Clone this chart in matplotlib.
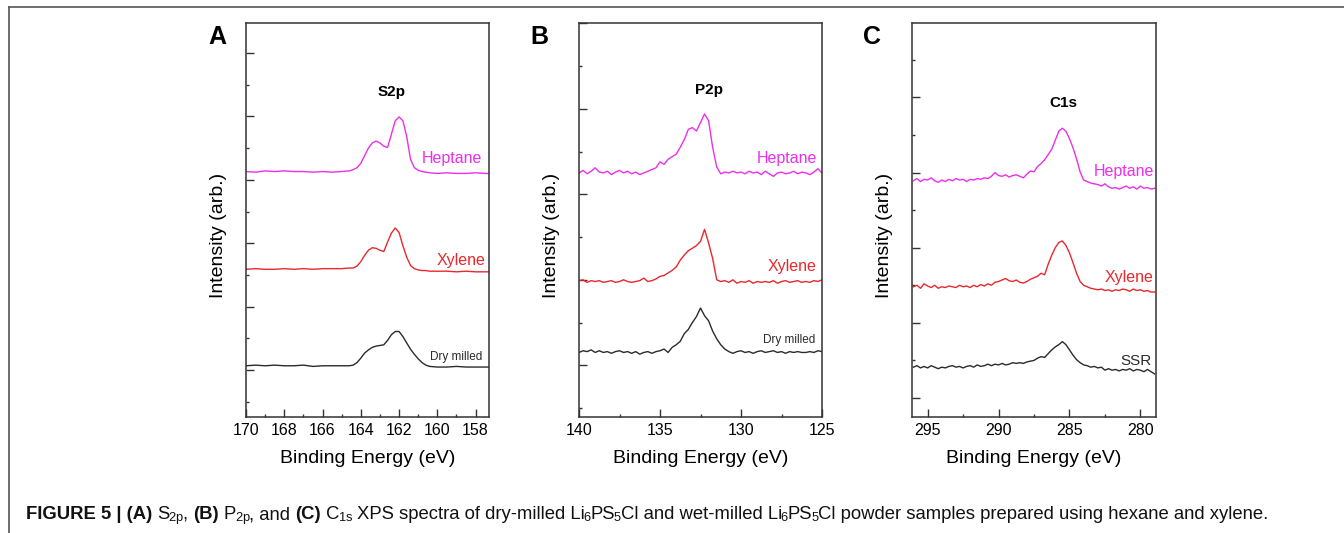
import matplotlib
matplotlib.use('Agg')
import matplotlib.pyplot as plt
from matplotlib.lines import Line2D
from matplotlib.ticker import MultipleLocator

plt.rcParams['font.family'] = ['Liberation Sans', 'DejaVu Sans']

# ---- data (intensities in arbitrary units, offset per spectrum) ----
# (A) S2p
s2p_energy = [170.0, 169.5, 169.0, 168.5, 168.0, 167.5, 167.0, 166.5, 166.0, 165.5,
              165.0, 164.6, 164.4, 164.2, 164.0, 163.8, 163.6, 163.4, 163.2, 163.0,
              162.8, 162.6, 162.4, 162.2, 162.0, 161.8, 161.6, 161.4, 161.2, 161.0,
              160.8, 160.6, 160.4, 160.0, 159.5, 159.0, 158.5, 158.0, 157.5, 157.3]
s2p_heptane = [3.13, 3.12, 3.14, 3.13, 3.14, 3.13, 3.13, 3.12, 3.13, 3.12,
               3.13, 3.14, 3.16, 3.19, 3.26, 3.38, 3.50, 3.58, 3.61, 3.58,
               3.53, 3.51, 3.72, 3.93, 3.99, 3.93, 3.68, 3.32, 3.19, 3.15,
               3.13, 3.12, 3.11, 3.10, 3.11, 3.10, 3.10, 3.11, 3.10, 3.10]
s2p_xylene = [1.59, 1.60, 1.59, 1.59, 1.60, 1.59, 1.60, 1.59, 1.60, 1.60,
              1.60, 1.61, 1.61, 1.64, 1.71, 1.81, 1.89, 1.93, 1.92, 1.89,
              1.87, 2.02, 2.16, 2.24, 2.17, 1.96, 1.78, 1.65, 1.60, 1.58,
              1.57, 1.57, 1.56, 1.56, 1.56, 1.55, 1.56, 1.55, 1.55, 1.55]
s2p_dry = [0.07, 0.08, 0.07, 0.08, 0.07, 0.07, 0.08, 0.06, 0.07, 0.07,
           0.07, 0.07, 0.08, 0.12, 0.19, 0.27, 0.32, 0.36, 0.38, 0.39,
           0.40, 0.47, 0.56, 0.61, 0.61, 0.53, 0.43, 0.33, 0.25, 0.18,
           0.12, 0.08, 0.06, 0.05, 0.05, 0.06, 0.05, 0.05, 0.05, 0.05]

# (B) P2p
p2p_energy = [140.00, 139.75, 139.50, 139.25, 139.00, 138.75, 138.50, 138.25, 138.00, 137.75,
              137.50, 137.25, 137.00, 136.75, 136.50, 136.25, 136.00, 135.75, 135.50, 135.25,
              135.00, 134.75, 134.50, 134.25, 134.00, 133.75, 133.50, 133.25, 133.00, 132.75,
              132.50, 132.25, 132.00, 131.75, 131.50, 131.25, 131.00, 130.75, 130.50, 130.25,
              130.00, 129.75, 129.50, 129.25, 129.00, 128.75, 128.50, 128.25, 128.00, 127.75,
              127.50, 127.25, 127.00, 126.75, 126.50, 126.25, 126.00, 125.75, 125.50, 125.25,
              125.00]
p2p_heptane = [2.25, 2.28, 2.24, 2.27, 2.31, 2.26, 2.25, 2.27, 2.23, 2.26,
               2.28, 2.25, 2.27, 2.24, 2.26, 2.23, 2.25, 2.27, 2.29, 2.31,
               2.38, 2.35, 2.41, 2.44, 2.47, 2.55, 2.64, 2.76, 2.78, 2.74,
               2.84, 2.94, 2.86, 2.55, 2.32, 2.24, 2.26, 2.25, 2.27, 2.25,
               2.26, 2.24, 2.27, 2.25, 2.26, 2.23, 2.27, 2.24, 2.21, 2.25,
               2.26, 2.24, 2.25, 2.27, 2.24, 2.26, 2.25, 2.23, 2.26, 2.30,
               2.25]
p2p_xylene = [0.99, 1.00, 0.97, 0.99, 0.98, 0.99, 0.97, 0.98, 0.99, 0.97,
              0.98, 1.00, 0.98, 0.97, 0.98, 0.99, 1.02, 0.98, 0.99, 1.01,
              1.04, 1.05, 1.08, 1.11, 1.15, 1.23, 1.29, 1.34, 1.37, 1.40,
              1.45, 1.59, 1.43, 1.25, 1.00, 0.98, 0.99, 0.97, 1.00, 0.96,
              0.98, 0.97, 0.99, 0.96, 0.98, 0.97, 0.98, 0.97, 0.99, 0.96,
              0.98, 0.99, 0.97, 0.98, 0.99, 0.97, 0.98, 0.97, 0.99, 0.98,
              1.00]
p2p_dry = [0.15, 0.17, 0.16, 0.18, 0.15, 0.17, 0.15, 0.16, 0.14, 0.16,
           0.17, 0.15, 0.16, 0.14, 0.16, 0.13, 0.15, 0.16, 0.14, 0.16,
           0.17, 0.19, 0.15, 0.21, 0.24, 0.28, 0.37, 0.42, 0.50, 0.57,
           0.67, 0.58, 0.52, 0.40, 0.31, 0.24, 0.19, 0.16, 0.14, 0.16,
           0.17, 0.15, 0.16, 0.14, 0.16, 0.17, 0.15, 0.16, 0.17, 0.15,
           0.16, 0.14, 0.16, 0.15, 0.16, 0.15, 0.15, 0.16, 0.15, 0.17,
           0.16]

# (C) C1s
c1s_energy = [296.00, 295.75, 295.50, 295.25, 295.00, 294.75, 294.50, 294.25, 294.00, 293.75,
              293.50, 293.25, 293.00, 292.75, 292.50, 292.25, 292.00, 291.75, 291.50, 291.25,
              291.00, 290.75, 290.50, 290.25, 290.00, 289.75, 289.50, 289.25, 289.00, 288.75,
              288.50, 288.25, 288.00, 287.75, 287.50, 287.25, 287.00, 286.75, 286.50, 286.25,
              286.00, 285.75, 285.50, 285.25, 285.00, 284.75, 284.50, 284.25, 284.00, 283.75,
              283.50, 283.25, 283.00, 282.75, 282.50, 282.25, 282.00, 281.75, 281.50, 281.25,
              281.00, 280.75, 280.50, 280.25, 280.00, 279.75, 279.50, 279.25, 279.00]
c1s_heptane = [2.89, 2.92, 2.88, 2.91, 2.90, 2.93, 2.89, 2.87, 2.90, 2.88,
               2.91, 2.89, 2.92, 2.90, 2.91, 2.88, 2.91, 2.90, 2.92, 2.91,
               2.93, 2.92, 2.95, 3.00, 2.96, 2.95, 2.97, 2.94, 2.96, 2.97,
               2.95, 2.93, 2.98, 3.02, 3.01, 3.08, 3.12, 3.17, 3.24, 3.31,
               3.43, 3.55, 3.59, 3.55, 3.45, 3.33, 3.18, 3.01, 2.90, 2.88,
               2.86, 2.85, 2.84, 2.82, 2.85, 2.81, 2.79, 2.80, 2.78, 2.80,
               2.82, 2.79, 2.81, 2.78, 2.82, 2.79, 2.80, 2.78, 2.79]
c1s_xylene = [1.48, 1.50, 1.46, 1.52, 1.49, 1.47, 1.50, 1.46, 1.48, 1.47,
              1.49, 1.48, 1.47, 1.50, 1.48, 1.49, 1.47, 1.50, 1.48, 1.51,
              1.49, 1.52, 1.50, 1.54, 1.55, 1.57, 1.59, 1.56, 1.55, 1.57,
              1.54, 1.53, 1.55, 1.58, 1.60, 1.62, 1.66, 1.64, 1.78, 1.90,
              2.00, 2.07, 2.09, 2.03, 1.93, 1.80, 1.66, 1.55, 1.50, 1.48,
              1.46, 1.45, 1.44, 1.45, 1.43, 1.44, 1.42, 1.44, 1.43, 1.45,
              1.44, 1.42, 1.45, 1.43, 1.44, 1.42, 1.43, 1.41, 1.41]
c1s_ssr = [0.41, 0.43, 0.40, 0.42, 0.40, 0.43, 0.41, 0.39, 0.41, 0.40,
           0.42, 0.43, 0.41, 0.42, 0.40, 0.42, 0.43, 0.41, 0.44, 0.42,
           0.43, 0.45, 0.43, 0.45, 0.44, 0.46, 0.44, 0.45, 0.47, 0.46,
           0.47, 0.46, 0.48, 0.49, 0.50, 0.53, 0.55, 0.54, 0.59, 0.64,
           0.68, 0.71, 0.75, 0.71, 0.64, 0.57, 0.51, 0.47, 0.44, 0.43,
           0.41, 0.42, 0.40, 0.41, 0.37, 0.39, 0.37, 0.38, 0.36, 0.38,
           0.37, 0.39, 0.36, 0.38, 0.37, 0.35, 0.38, 0.35, 0.32]

MAGENTA = '#ec2fec'
RED = '#e8282c'
DARK = '#2b2b2b'
AX_COLOR = '#333333'

fig = plt.figure(figsize=(13.44, 5.33), dpi=100)

# frame lines of the figure box (top and left)
fig.add_artist(Line2D([9 / 1344, 1.0], [1 - 7 / 533, 1 - 7 / 533],
                      transform=fig.transFigure, color='#555555', lw=1.2))
fig.add_artist(Line2D([9 / 1344, 9 / 1344], [0.0, 1 - 7 / 533],
                      transform=fig.transFigure, color='#555555', lw=1.2))

panels = [
    dict(letter='A', title='S2p', left=246, width=243, xlim=(170, 157.3), xmaj=2, xmin=1,
         ylim=(-0.737, 5.47), energy=s2p_energy,
         series=[s2p_heptane, s2p_xylene, s2p_dry],
         labels=[('Heptane', MAGENTA, 11.5, 0.971, 0.655),
                 ('Xylene', RED, 11.5, 0.984, 0.398),
                 ('Dry milled', DARK, 8.5, 0.971, 0.152)],
         title_pos=(0.601, 0.825), letter_x=217),
    dict(letter='B', title='P2p', left=579, width=243, xlim=(140, 125), xmaj=5, xmin=2.5,
         ylim=(-0.605, 4.004), energy=p2p_energy,
         series=[p2p_heptane, p2p_xylene, p2p_dry],
         labels=[('Heptane', MAGENTA, 11.5, 0.979, 0.655),
                 ('Xylene', RED, 11.5, 0.979, 0.383),
                 ('Dry milled', DARK, 8.5, 0.971, 0.195)],
         title_pos=(0.535, 0.830), letter_x=539),
    dict(letter='C', title='C1s', left=912, width=244, xlim=(296.1, 278.9), xmaj=5, xmin=2.5,
         ylim=(-0.253, 4.99), energy=c1s_energy,
         series=[c1s_heptane, c1s_xylene, c1s_ssr],
         labels=[('Heptane', MAGENTA, 11.5, 0.992, 0.622),
                 ('Xylene', RED, 11.5, 0.988, 0.353),
                 ('SSR', DARK, 11, 0.984, 0.142)],
         title_pos=(0.619, 0.797), letter_x=872),
]

colors = [MAGENTA, RED, DARK]
for p in panels:
    ax = fig.add_axes([p['left'] / 1344, 1 - 417 / 533, p['width'] / 1344, 394 / 533])
    for vals, c in zip(p['series'], colors):
        ax.plot(p['energy'], vals, color=c, lw=1.0)
    ax.set_xlim(*p['xlim'])
    ax.set_ylim(*p['ylim'])
    ax.xaxis.set_major_locator(MultipleLocator(p['xmaj']))
    ax.xaxis.set_minor_locator(MultipleLocator(p['xmin']))
    ax.yaxis.set_major_locator(MultipleLocator(1))
    ax.yaxis.set_minor_locator(MultipleLocator(0.5))
    ax.tick_params(which='both', direction='in', top=False, right=False,
                   color=AX_COLOR, width=1.0)
    ax.tick_params(which='major', length=5.5, labelsize=11.5, pad=4)
    ax.tick_params(which='minor', length=2.5)
    ax.tick_params(axis='y', labelleft=False)
    for sp in ax.spines.values():
        sp.set_color(AX_COLOR)
        sp.set_linewidth(1.1)
    ax.set_xlabel('Binding Energy (eV)', fontsize=14, labelpad=9)
    ax.set_ylabel('Intensity (arb.)', fontsize=14)
    ax.yaxis.set_label_coords(-19 / p['width'], 0.46)
    for text, c, fs, x, y in p['labels']:
        ax.text(x, y, text, color=c, fontsize=fs, ha='right', va='center',
                transform=ax.transAxes)
    ax.text(p['title_pos'][0], p['title_pos'][1], p['title'], fontsize=11,
            fontweight='bold', ha='center', va='center', transform=ax.transAxes)
    fig.text(p['letter_x'] / 1344, 1 - 37 / 533, p['letter'], fontsize=18,
             fontweight='bold', ha='center', va='center')

# caption, assembled piece by piece (bold parts, subscripts)
caption = [
    ('FIGURE 5 | (A)', 'bold', True), ('S', 'normal', False), (r'$\mathregular{_{2p}}$', 'normal', False),
    (',', 'normal', True), ('(B)', 'bold', True), ('P', 'normal', False),
    (r'$\mathregular{_{2p}}$', 'normal', False), (', and', 'normal', True), ('(C)', 'bold', True),
    ('C', 'normal', False), (r'$\mathregular{_{1s}}$', 'normal', True),
    ('XPS spectra of dry-milled Li', 'normal', False), (r'$\mathregular{_6}$', 'normal', False),
    ('PS', 'normal', False), (r'$\mathregular{_5}$', 'normal', False),
    ('Cl and wet-milled Li', 'normal', False), (r'$\mathregular{_6}$', 'normal', False),
    ('PS', 'normal', False), (r'$\mathregular{_5}$', 'normal', False),
    ('Cl powder samples prepared using hexane and xylene.', 'normal', False),
]
renderer = fig.canvas.get_renderer()
cap_fs = 13.3
space_px = 0.28 * cap_fs * 100 / 72
x_px = 26
for txt, weight, space in caption:
    is_math = txt.startswith('$')
    t = fig.text((x_px - (1.5 if is_math else 0)) / 1344, 1 - 519 / 533, txt,
                 fontsize=cap_fs, fontweight=weight,
                 ha='left', va='baseline', color='#111111')
    x_px = t.get_window_extent(renderer).x1 + (space_px if space else 0)
    if is_math:
        x_px -= 1.5

fig.savefig('out.png', dpi=100)
